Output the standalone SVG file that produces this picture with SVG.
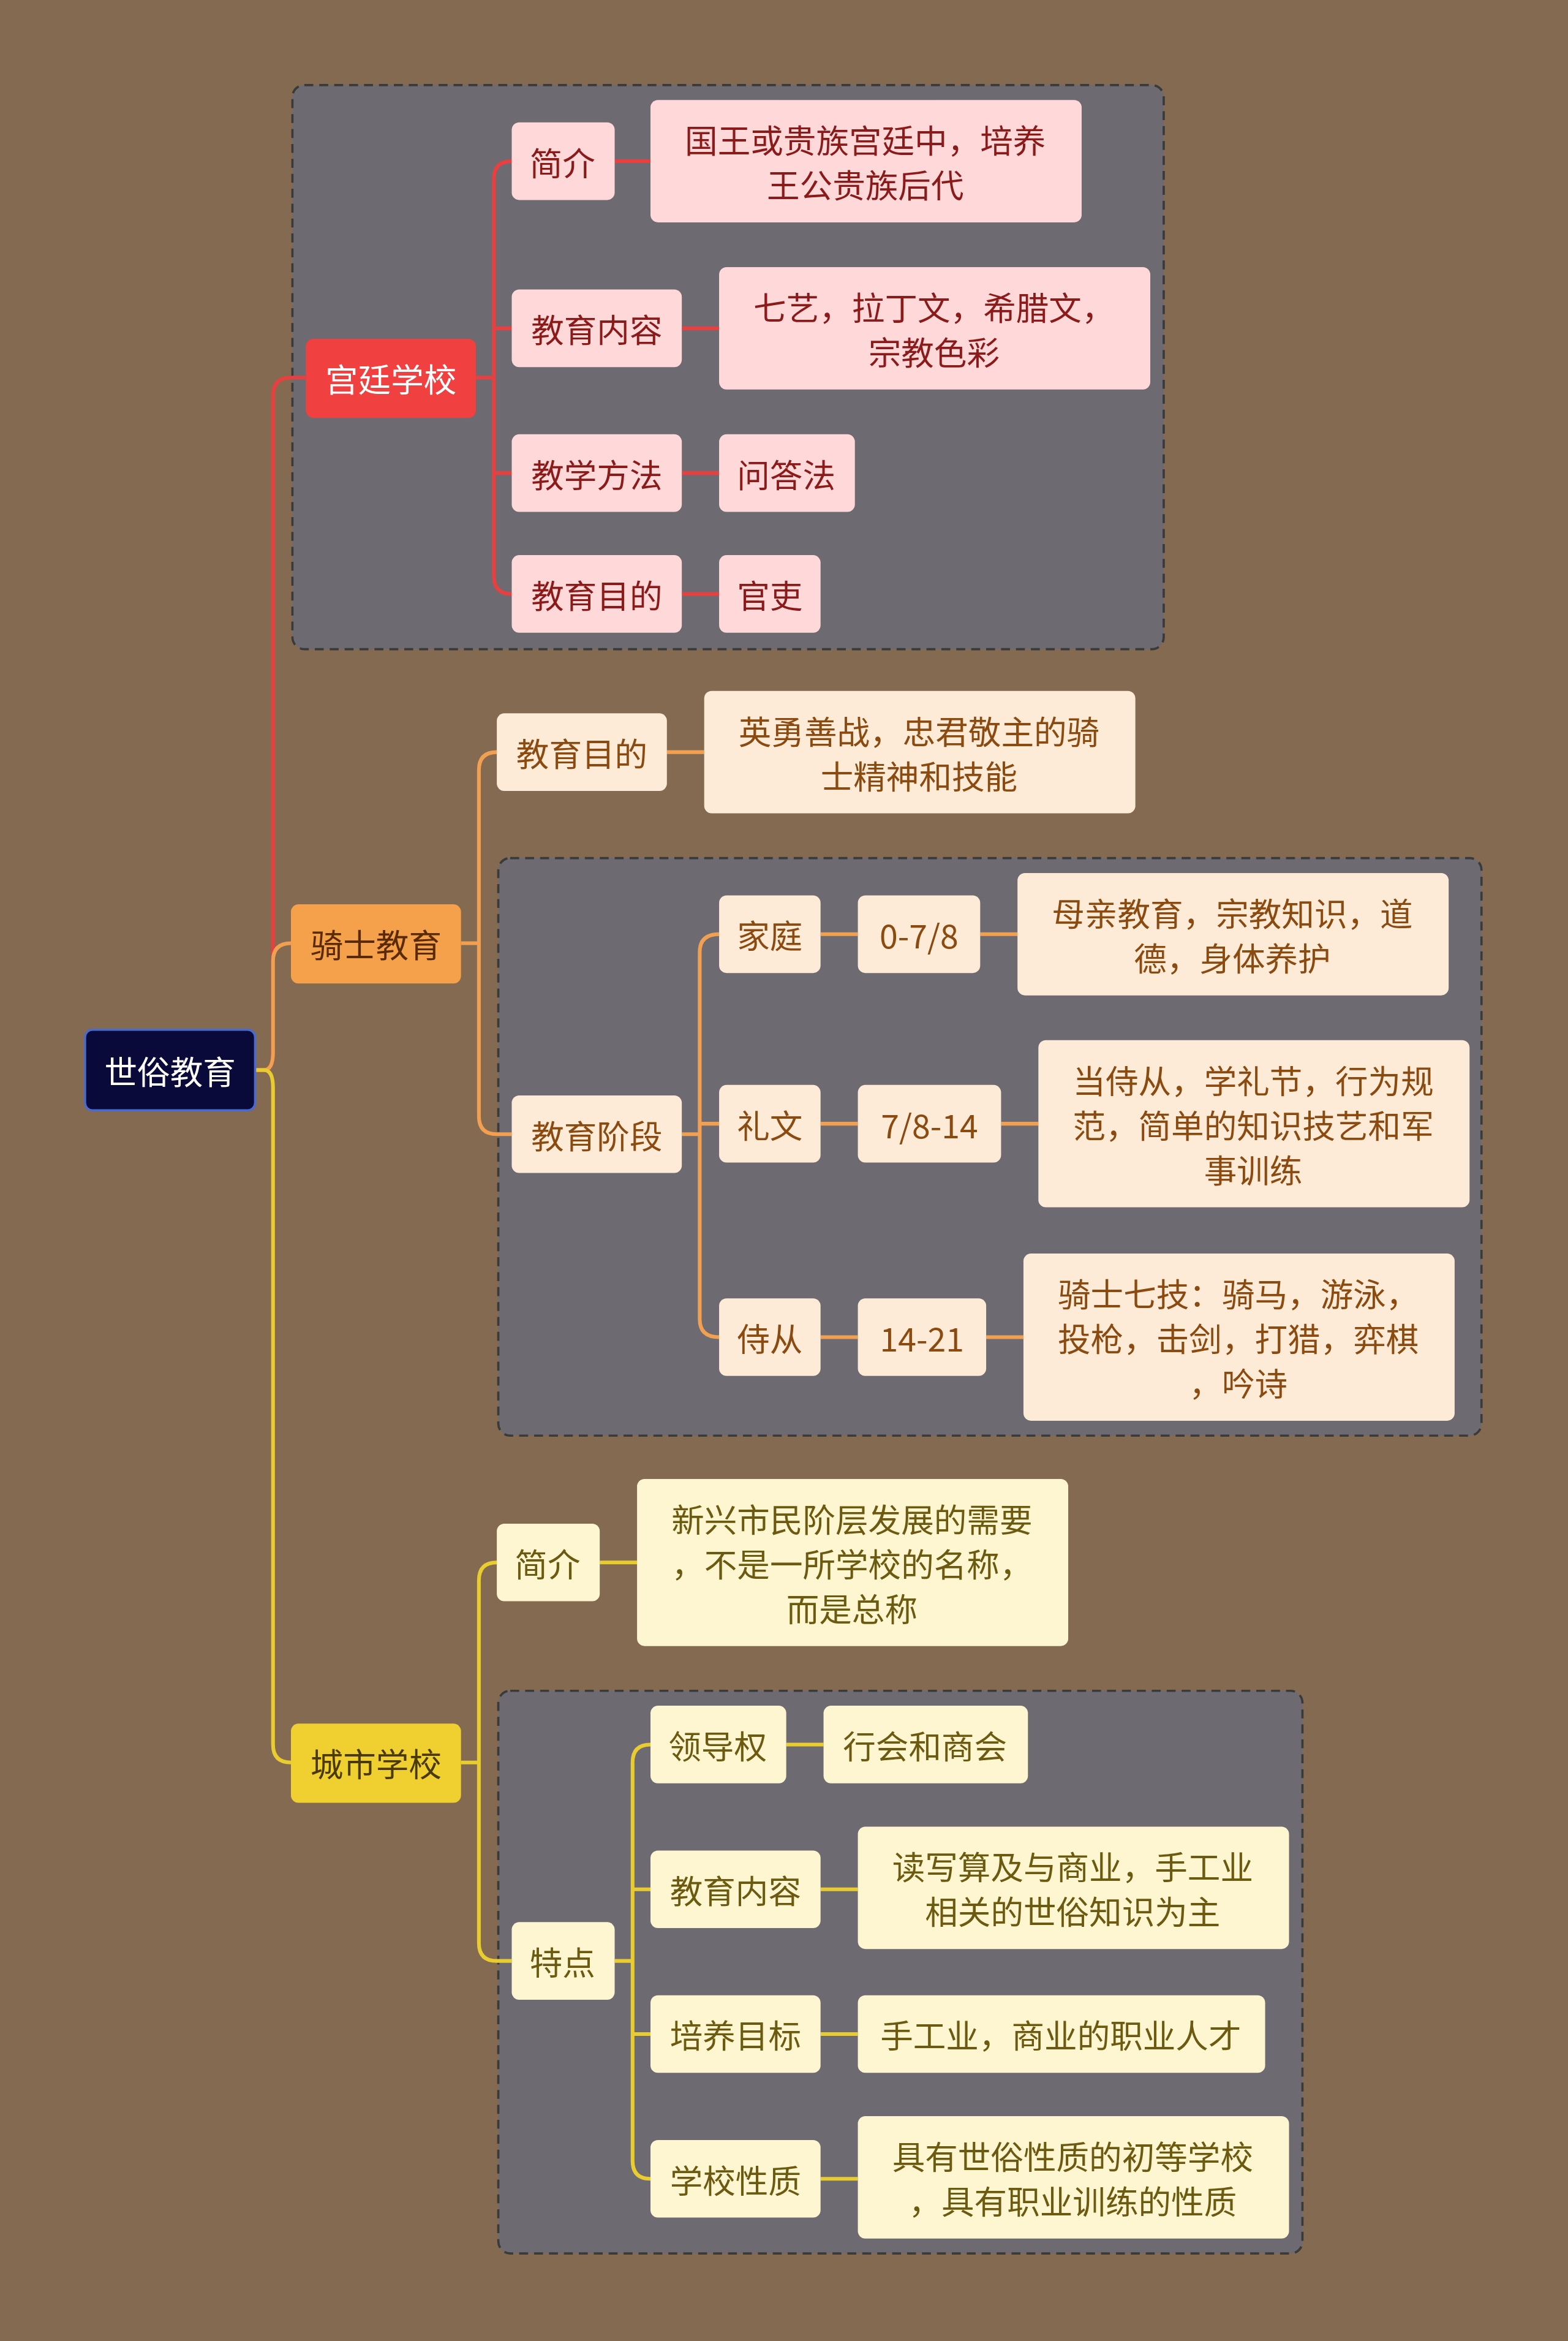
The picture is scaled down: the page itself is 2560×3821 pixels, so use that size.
<svg xmlns="http://www.w3.org/2000/svg" width="2560" height="3821" viewBox="0 0 2560 3821">
<style>
text{font-family:"Noto Sans CJK SC","Noto Sans",sans-serif;font-size:22px;text-anchor:middle;dominant-baseline:central}
.box{fill:#6e6a72;stroke:#3a3a3a;stroke-width:1.5;stroke-dasharray:6 4}
.r rect{fill:#ffd9d9}.r text{fill:#8b1a1a}
.o rect{fill:#fdebd8}.o text{fill:#8b4a10}
.y rect{fill:#fdf6d0}.y text{fill:#6b5a10}
.cr{stroke:#e84040;fill:none;stroke-width:2.5}
.co{stroke:#f0a050;fill:none;stroke-width:2.5}
.cy{stroke:#e8cc30;fill:none;stroke-width:2.5}
</style>
<rect width="2560" height="3821" fill="#836a50"/>
<g transform="scale(2.4358)">
<rect class="box" x="196" y="57" width="584" height="378" rx="8"/>
<rect class="box" x="334" y="575" width="659" height="387" rx="8"/>
<rect class="box" x="334" y="1133" width="539" height="377" rx="8"/>
<g id="connectors">
<path class="cr" d="M171 717H177Q183 717 183 705V265Q183 253 195 253H205"/>
<path class="co" d="M171 717H177Q183 717 183 705V644Q183 632 195 632"/>
<path class="cy" d="M171 717H177Q183 717 183 729V1169Q183 1181 195 1181"/>
<path class="cr" d="M319 253H331M331 120Q331 108 343 108M331 120V386Q331 398 343 398M331 220H343M331 317H343"/>
<path class="cr" d="M412 108H436M457 220H482M457 317H482M457 398H482"/>
<path class="co" d="M309 632H321M321 516Q321 504 333 504M321 516V748Q321 760 333 760H343"/>
<path class="co" d="M447 504H472"/>
<path class="co" d="M457 760H469M469 638Q469 626 482 626M469 638V884Q469 896 482 896M469 753H482"/>
<path class="co" d="M550 626H575M657 626H682M550 753H575M671 753H696M550 896H575M661 896H686"/>
<path class="cy" d="M309 1181H321M321 1059Q321 1047 333 1047M321 1059V1302Q321 1314 333 1314H343"/>
<path class="cy" d="M402 1047H427"/>
<path class="cy" d="M412 1314H424M424 1181Q424 1169 436 1169M424 1181V1448Q424 1460 436 1460M424 1266H436M424 1363H436"/>
<path class="cy" d="M527 1169H552M550 1266H575M550 1363H575M550 1460H575"/>
</g>
<g id="root"><rect x="57" y="690" width="114" height="54" rx="5" fill="#0a0a3a" stroke="#4a6ad0" stroke-width="1.5"/><text x="114" y="717" fill="#fff">世俗教育</text></g>
<g id="gongting"><rect x="205" y="227" width="114" height="53" rx="5" fill="#f04040"/><text x="262" y="253" fill="#fff">宫廷学校</text></g>
<g id="qishi"><rect x="195" y="606" width="114" height="53" rx="5" fill="#f5a04a"/><text x="252" y="632" fill="#5a2a00">骑士教育</text></g>
<g id="chengshi"><rect x="195" y="1155" width="114" height="53" rx="5" fill="#f0d030"/><text x="252" y="1181" fill="#4a3a00">城市学校</text></g>
<g class="r">
<g id="r1"><rect x="343" y="82" width="69" height="52" rx="5"/><text x="377" y="108">简介</text></g>
<g id="r1a"><rect x="436" y="67" width="289" height="82" rx="5"/><text x="580" y="93">国王或贵族宫廷中，培养</text><text x="580" y="123">王公贵族后代</text></g>
<g id="r2"><rect x="343" y="194" width="114" height="52" rx="5"/><text x="400" y="220">教育内容</text></g>
<g id="r2a"><rect x="482" y="179" width="289" height="82" rx="5"/><text x="626" y="205">七艺，拉丁文，希腊文，</text><text x="626" y="235">宗教色彩</text></g>
<g id="r3"><rect x="343" y="291" width="114" height="52" rx="5"/><text x="400" y="317">教学方法</text></g>
<g id="r3a"><rect x="482" y="291" width="91" height="52" rx="5"/><text x="527" y="317">问答法</text></g>
<g id="r4"><rect x="343" y="372" width="114" height="52" rx="5"/><text x="400" y="398">教育目的</text></g>
<g id="r4a"><rect x="482" y="372" width="68" height="52" rx="5"/><text x="516" y="398">官吏</text></g>
</g>
<g class="o">
<g id="o1"><rect x="333" y="478" width="114" height="52" rx="5"/><text x="390" y="504">教育目的</text></g>
<g id="o1a"><rect x="472" y="463" width="289" height="82" rx="5"/><text x="616" y="489">英勇善战，忠君敬主的骑</text><text x="616" y="519">士精神和技能</text></g>
<g id="o2"><rect x="343" y="734" width="114" height="52" rx="5"/><text x="400" y="760">教育阶段</text></g>
<g id="o3"><rect x="482" y="600" width="68" height="52" rx="5"/><text x="516" y="626">家庭</text></g>
<g id="o3a"><rect x="575" y="600" width="82" height="52" rx="5"/><text x="616" y="626">0-7/8</text></g>
<g id="o3b"><rect x="682" y="585" width="289" height="82" rx="5"/><text x="826" y="611">母亲教育，宗教知识，道</text><text x="826" y="641">德，身体养护</text></g>
<g id="o4"><rect x="482" y="727" width="68" height="52" rx="5"/><text x="516" y="753">礼文</text></g>
<g id="o4a"><rect x="575" y="727" width="96" height="52" rx="5"/><text x="623" y="753">7/8-14</text></g>
<g id="o4b"><rect x="696" y="697" width="289" height="112" rx="5"/><text x="840" y="723">当侍从，学礼节，行为规</text><text x="840" y="753">范，简单的知识技艺和军</text><text x="840" y="783">事训练</text></g>
<g id="o5"><rect x="482" y="870" width="68" height="52" rx="5"/><text x="516" y="896">侍从</text></g>
<g id="o5a"><rect x="575" y="870" width="86" height="52" rx="5"/><text x="618" y="896">14-21</text></g>
<g id="o5b"><rect x="686" y="840" width="289" height="112" rx="5"/><text x="830" y="866">骑士七技：骑马，游泳，</text><text x="830" y="896">投枪，击剑，打猎，弈棋</text><text x="830" y="926">，吟诗</text></g>
</g>
<g class="y">
<g id="y1"><rect x="333" y="1021" width="69" height="52" rx="5"/><text x="367" y="1047">简介</text></g>
<g id="y1a"><rect x="427" y="991" width="289" height="112" rx="5"/><text x="571" y="1017">新兴市民阶层发展的需要</text><text x="571" y="1047">，不是一所学校的名称，</text><text x="571" y="1077">而是总称</text></g>
<g id="y2"><rect x="343" y="1288" width="69" height="52" rx="5"/><text x="377" y="1314">特点</text></g>
<g id="y3"><rect x="436" y="1143" width="91" height="52" rx="5"/><text x="481" y="1169">领导权</text></g>
<g id="y3a"><rect x="552" y="1143" width="137" height="52" rx="5"/><text x="620" y="1169">行会和商会</text></g>
<g id="y4"><rect x="436" y="1240" width="114" height="52" rx="5"/><text x="493" y="1266">教育内容</text></g>
<g id="y4a"><rect x="575" y="1224" width="289" height="82" rx="5"/><text x="719" y="1250">读写算及与商业，手工业</text><text x="719" y="1280">相关的世俗知识为主</text></g>
<g id="y5"><rect x="436" y="1337" width="114" height="52" rx="5"/><text x="493" y="1363">培养目标</text></g>
<g id="y5a"><rect x="575" y="1337" width="273" height="52" rx="5"/><text x="711" y="1363">手工业，商业的职业人才</text></g>
<g id="y6"><rect x="436" y="1434" width="114" height="52" rx="5"/><text x="493" y="1460">学校性质</text></g>
<g id="y6a"><rect x="575" y="1418" width="289" height="82" rx="5"/><text x="719" y="1444">具有世俗性质的初等学校</text><text x="719" y="1474">，具有职业训练的性质</text></g>
</g>
</g>
</svg>
